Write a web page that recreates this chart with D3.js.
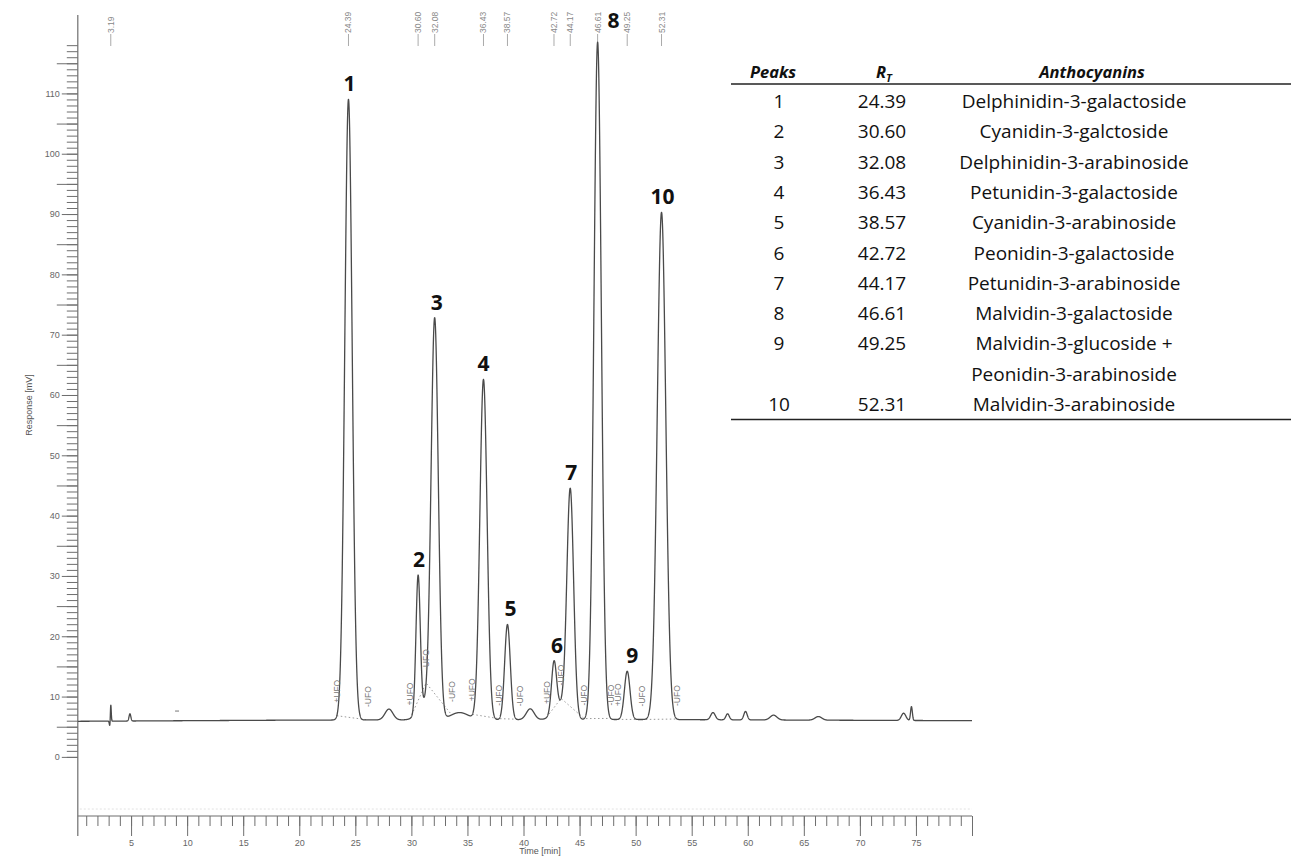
<!DOCTYPE html>
<html>
<head>
<meta charset="utf-8">
<script src="https://cdn.jsdelivr.net/npm/d3@7"></script>
<style>
  html, body { margin: 0; padding: 0; background: #fff; }
  svg { display: block; }
</style>
</head>
<body>
<svg id="chart" width="1291" height="857"></svg>
<script>
// ---- Anthocyanin peaks: number, retention time (min), height above baseline (mV), width sigma (min)
const peakNumbers = ["1", "2", "3", "4", "5", "6", "7", "8", "9", "10"];
const peakTimes   = [24.39, 30.60, 32.08, 36.43, 38.57, 42.72, 44.17, 46.61, 49.25, 52.31];
const peakHeights = [102.9, 22.5, 65.8, 56.4, 15.8, 8.2, 37.5, 112.3, 8.0, 84.1];
const peakWidths  = [0.33, 0.19, 0.32, 0.32, 0.25, 0.22, 0.30, 0.33, 0.25, 0.38];
const compounds = [
  ["Delphinidin-3-galactoside"],
  ["Cyanidin-3-galctoside"],
  ["Delphinidin-3-arabinoside"],
  ["Petunidin-3-galactoside"],
  ["Cyanidin-3-arabinoside"],
  ["Peonidin-3-galactoside"],
  ["Petunidin-3-arabinoside"],
  ["Malvidin-3-galactoside"],
  ["Malvidin-3-glucoside +", "Peonidin-3-arabinoside"],
  ["Malvidin-3-arabinoside"]
];

// ---- Unlabelled features of the trace (injection spike, small bumps, humps under clusters)
const minorTimes   = [3.12, 3.19, 4.90, 28.0, 31.2, 34.3, 40.6, 43.3, 56.9, 58.2, 59.8, 62.3, 66.3, 73.9, 74.6];
const minorHeights = [-1.0, 3.0, 1.2, 1.8, 2.5, 1.2, 1.8, 2.5, 1.2, 1.0, 1.4, 0.8, 0.6, 1.2, 2.3];
const minorWidths  = [0.05, 0.04, 0.08, 0.35, 0.6, 0.8, 0.35, 0.6, 0.2, 0.15, 0.15, 0.3, 0.3, 0.2, 0.08];

// ---- Detector baseline level (mV) along the run
const baselineTimes  = [0, 20, 50, 80];
const baselineLevels = [5.9, 6.1, 6.2, 6.0];

// ---- Retention times printed along the top
const rtLabels = ["3.19", "24.39", "30.60", "32.08", "36.43", "38.57", "42.72", "44.17", "46.61", "49.25", "52.31"];

// ---- Integration start (+) / end (-) marks
const ufoTimes = [23.35, 26.16, 29.88, 31.31, 33.60, 35.44, 37.82, 39.70, 42.08, 43.35, 45.41, 47.79, 48.41, 50.55, 53.70];
const ufoSigns = ["+", "-", "+", "-", "-", "+", "-", "-", "+", "-", "-", "-", "+", "-", "-"];

// ---- Event marker on the trace
const markerTimes  = [9.1];
const markerLevels = [7.6];

// ---- Axis ticks
const xMinorTicks = d3.range(1, 81);
const xMajorTicks = [5, 10, 15, 20, 25, 30, 35, 40, 45, 50, 55, 60, 65, 70, 75];
const yMinorTicks = d3.range(0, 119);
const yHalfTicks  = [5, 15, 25, 35, 45, 55, 65, 75, 85, 95, 105, 115];
const yMajorTicks = [0, 10, 20, 30, 40, 50, 60, 70, 80, 90, 100, 110];

// ---- Layout
const svg = d3.select("#chart");
const x = d3.scaleLinear().domain([0, 80]).range([75, 972]);
const y = d3.scaleLinear().domain([-9.8, 123]).range([816, 15]);
const axisColor = "#6e6e6e";
const tStart = 0.25, tEnd = 80;
const x0 = x(tStart);

const baseline = d3.scaleLinear().domain(baselineTimes).range(baselineLevels);
function gauss(t, c, h, s) { const d = t - c; return h * Math.exp(-d * d / (2 * s * s)); }
function signal(t) {
  let v = baseline(t);
  for (let i = 0; i < peakTimes.length; i++) v += gauss(t, peakTimes[i], peakHeights[i], peakWidths[i]);
  for (let i = 0; i < minorTimes.length; i++) v += gauss(t, minorTimes[i], minorHeights[i], minorWidths[i]);
  return v;
}

// ---- Y axis (three tick tiers, labels on the 10s)
function styleAxis(g) {
  g.select(".domain").remove();
  g.selectAll(".tick line").attr("stroke", axisColor);
  g.selectAll("text").attr("fill", "#666").attr("font-family", "Liberation Sans, Arial, sans-serif").attr("font-size", 9);
}
svg.append("g").attr("transform", `translate(${x0},0)`)
  .call(d3.axisLeft(y).tickValues(yMinorTicks).tickSize(11).tickFormat("")).call(styleAxis);
svg.append("g").attr("transform", `translate(${x0},0)`)
  .call(d3.axisLeft(y).tickValues(yHalfTicks).tickSize(21).tickFormat("")).call(styleAxis);
svg.append("g").attr("transform", `translate(${x0},0)`)
  .call(d3.axisLeft(y).tickValues(yMajorTicks).tickSize(16).tickPadding(2).tickFormat(d3.format("d"))).call(styleAxis);
svg.append("line").attr("x1", x0).attr("x2", x0).attr("y1", y(123)).attr("y2", 836)
  .attr("stroke", axisColor).attr("stroke-width", 1.2);

// ---- X axis
const xAxisY = y(-9.8);
svg.append("line").attr("x1", x0 + 2).attr("x2", x(80)).attr("y1", xAxisY - 7).attr("y2", xAxisY - 7)
  .attr("stroke", "#e2e2e2").attr("stroke-dasharray", "2,2");
svg.append("g").attr("transform", `translate(0,${xAxisY})`)
  .call(d3.axisBottom(x).tickValues(xMinorTicks).tickSize(10).tickFormat("")).call(styleAxis);
svg.append("g").attr("transform", `translate(0,${xAxisY})`)
  .call(d3.axisBottom(x).tickValues(xMajorTicks.concat([80])).tickSize(20).tickPadding(4)
    .tickFormat(d => d === 80 ? "" : d)).call(styleAxis);
svg.append("line").attr("x1", x0).attr("x2", x(80)).attr("y1", xAxisY).attr("y2", xAxisY)
  .attr("stroke", axisColor).attr("stroke-width", 1.2);

svg.append("text").attr("x", 540).attr("y", 854).attr("text-anchor", "middle")
  .attr("font-family", "Liberation Sans, Arial, sans-serif").attr("font-size", 9).attr("fill", "#555")
  .text("Time [min]");
svg.append("text").attr("transform", "translate(32,405) rotate(-90)").attr("text-anchor", "middle")
  .attr("font-family", "Liberation Sans, Arial, sans-serif").attr("font-size", 9).attr("fill", "#555")
  .text("Response [mV]");

// ---- Retention time labels along the top
const rtG = svg.append("g");
rtLabels.forEach(s => {
  const px = x(+s);
  rtG.append("line").attr("x1", px).attr("x2", px).attr("y1", 34).attr("y2", 46)
    .attr("stroke", "#aaa").attr("stroke-width", 1);
  rtG.append("text").attr("transform", `translate(${px},33) rotate(-90)`).attr("dy", "0.35em")
    .attr("font-family", "Liberation Sans, Arial, sans-serif").attr("font-size", 8.5).attr("fill", "#888")
    .text(s);
});

// ---- Integration baseline (dotted) between start and end marks
const segments = [];
ufoTimes.forEach((t, i) => {
  if (ufoSigns[i] === "+" || segments.length === 0) segments.push([]);
  segments[segments.length - 1].push(t);
});
const dotLine = d3.line().x(t => x(t)).y(t => y(signal(t)));
segments.forEach(seg => {
  svg.append("path").attr("d", dotLine(seg)).attr("fill", "none")
    .attr("stroke", "#9a9a9a").attr("stroke-width", 1).attr("stroke-dasharray", "1.5,2.5");
});

// ---- Chromatogram trace
const times = d3.range(tStart, tEnd + 1e-9, 0.01);
svg.append("path")
  .attr("d", d3.line().x(t => x(t)).y(t => y(signal(t)))(times))
  .attr("fill", "none").attr("stroke", "#4a4a4a").attr("stroke-width", 1.3).attr("stroke-linejoin", "round");

markerTimes.forEach((t, i) => {
  svg.append("line").attr("x1", x(t) - 2).attr("x2", x(t) + 2).attr("y1", y(markerLevels[i])).attr("y2", y(markerLevels[i]))
    .attr("stroke", "#777").attr("stroke-width", 1);
});

// ---- Integration mark labels
ufoTimes.forEach((t, i) => {
  const py = y(signal(t)) - 13;
  svg.append("text").attr("transform", `translate(${x(t)},${py}) rotate(-90)`).attr("dy", "0.35em")
    .attr("font-family", "Liberation Sans, Arial, sans-serif").attr("font-size", 8.5).attr("fill", "#777")
    .text(ufoSigns[i] + "UFO");
});

// ---- Peak numbers
const labelDx = [1, 1, 2, 0, 3, 3, 1, 16, 5, 1];
const labelDy = [-8, -8, -8, -8, -8, -8, -8, -14, -8, -8];
peakNumbers.forEach((n, i) => {
  const apex = signal(peakTimes[i]);
  svg.append("text").attr("x", x(peakTimes[i]) + labelDx[i]).attr("y", y(apex) + labelDy[i])
    .attr("text-anchor", "middle").attr("font-family", "Open Sans, sans-serif").attr("font-weight", 700)
    .attr("font-size", 21).attr("fill", "#111").text(n);
});

// ---- Peak assignment table
const table = svg.append("g").attr("font-family", "Open Sans, sans-serif").attr("fill", "#111");
const colX = [779, 882, 1074];
const headY = 78, rowY0 = 108, rowStep = 30.3;
table.append("text").attr("x", 773).attr("y", headY).attr("text-anchor", "middle")
  .attr("font-weight", 700).attr("font-style", "italic").attr("font-size", 16.5).text("Peaks");
const rt = table.append("text").attr("x", 884).attr("y", headY).attr("text-anchor", "middle")
  .attr("font-weight", 700).attr("font-style", "italic").attr("font-size", 16.5);
rt.append("tspan").text("R");
rt.append("tspan").attr("font-size", 11).attr("dy", 4).text("T");
table.append("text").attr("x", 1092).attr("y", headY).attr("text-anchor", "middle")
  .attr("font-weight", 700).attr("font-style", "italic").attr("font-size", 16.5).text("Anthocyanins");

const rows = [];
peakNumbers.forEach((n, i) => {
  rows.push([n, peakTimes[i].toFixed(2), compounds[i][0]]);
  for (let k = 1; k < compounds[i].length; k++) rows.push(["", "", compounds[i][k]]);
});
rows.forEach((r, k) => {
  r.forEach((cell, c) => {
    if (!cell) return;
    table.append("text").attr("x", colX[c]).attr("y", rowY0 + k * rowStep)
      .attr("text-anchor", "middle").attr("font-size", 19).text(cell);
  });
});
table.append("line").attr("x1", 731).attr("x2", 1291).attr("y1", 84).attr("y2", 84)
  .attr("stroke", "#222").attr("stroke-width", 1.5);
table.append("line").attr("x1", 731).attr("x2", 1291).attr("y1", rowY0 + (rows.length - 1) * rowStep + 8.5)
  .attr("y2", rowY0 + (rows.length - 1) * rowStep + 8.5)
  .attr("stroke", "#222").attr("stroke-width", 1.5);
</script>
</body>
</html>
